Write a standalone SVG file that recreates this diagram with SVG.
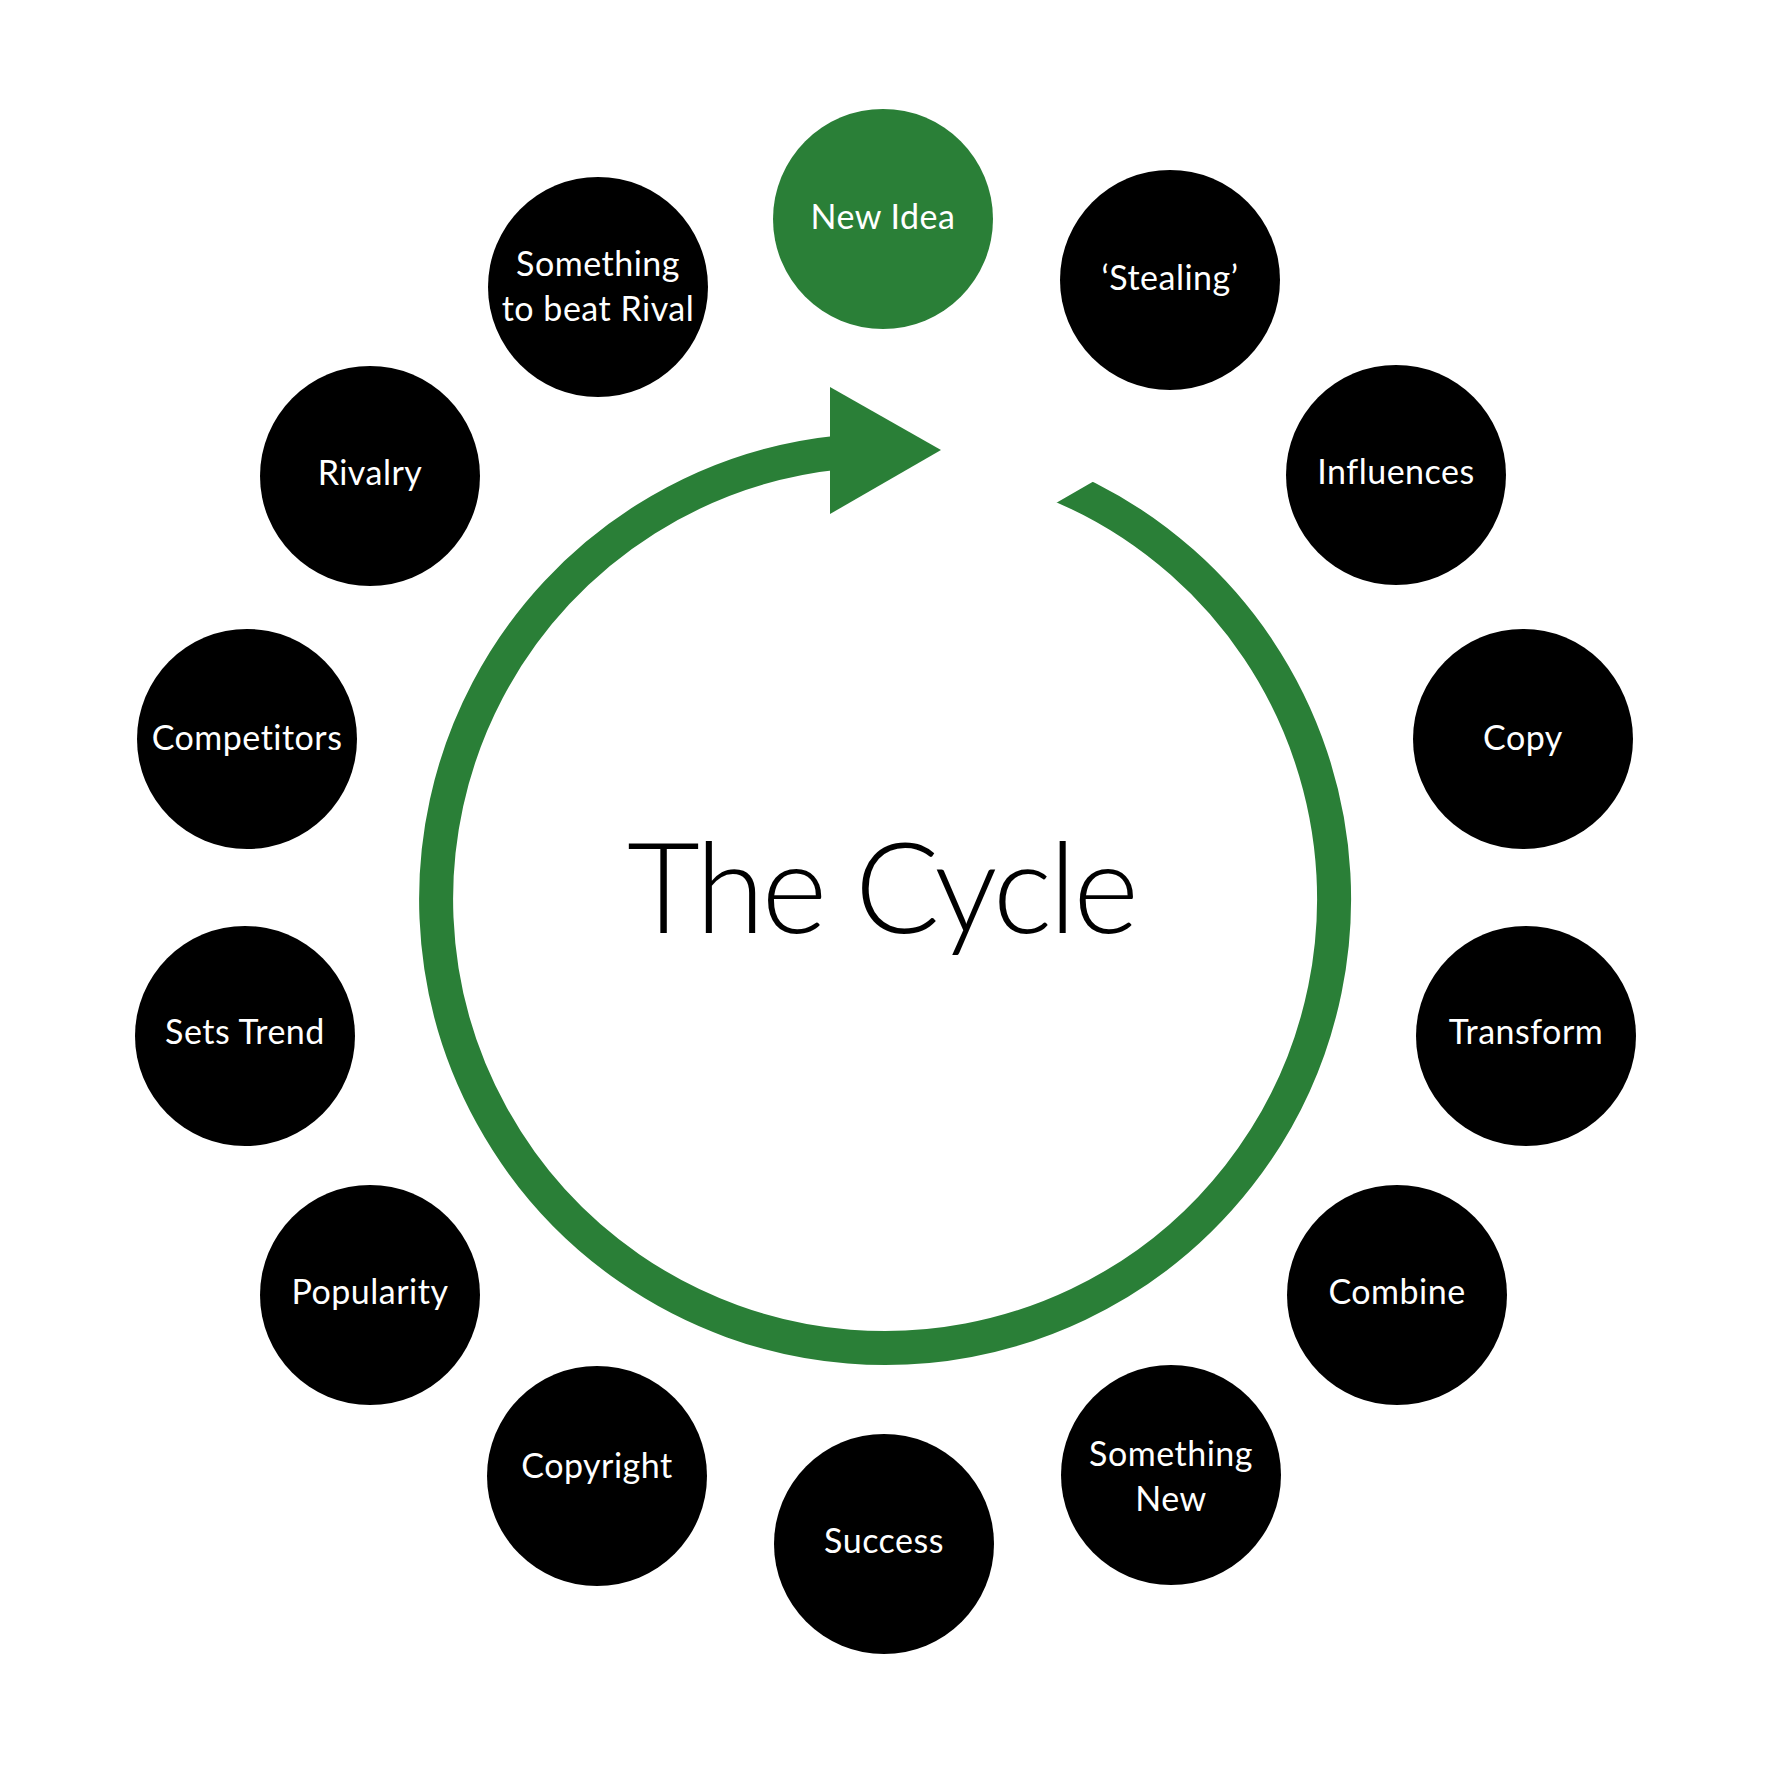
<svg xmlns="http://www.w3.org/2000/svg" width="1772" height="1772" viewBox="0 0 1772 1772">
  <style>
    .node { fill: #000000; }
    .start { fill: #2a7f37; }
    .label { font-family: Lato, "Open Sans", "Liberation Sans", sans-serif; font-size: 34px; fill: #ffffff; text-anchor: middle; letter-spacing: 0.5px; }
    .title { font-family: Lato, "Open Sans", "Liberation Sans", sans-serif; font-size: 126px; font-weight: 300; fill: #000000; text-anchor: middle; }
    .ring { fill: none; stroke: #2a7f37; stroke-width: 34; stroke-linecap: butt; }
    .head { fill: #2a7f37; }
  </style>
  <defs>
    <clipPath id="ringCut">
      <polygon points="0,0 900,0 900,593 1772,90 1772,1772 0,1772"/>
    </clipPath>
  </defs>
  <rect width="1772" height="1772" fill="#ffffff"/>

  <g id="connectors">
    <path class="ring" clip-path="url(#ringCut)" d="M 1001.2 465.3 A 449 449 0 1 1 840 452.3"/>
    <polygon class="head" points="830,387 941,450 830,514"/>
  </g>

  <text class="title" x="883" y="933" textLength="512" lengthAdjust="spacing">The Cycle</text>

  <g id="node-new-idea">
    <circle class="start" cx="883" cy="219" r="110"/>
    <text class="label" x="883" y="229">New Idea</text>
  </g>
  <g id="node-stealing">
    <circle class="node" cx="1170" cy="280" r="110"/>
    <text class="label" x="1170" y="290">‘Stealing’</text>
  </g>
  <g id="node-influences">
    <circle class="node" cx="1396" cy="475" r="110"/>
    <text class="label" x="1396" y="484">Influences</text>
  </g>
  <g id="node-copy">
    <circle class="node" cx="1523" cy="739" r="110"/>
    <text class="label" x="1523" y="750">Copy</text>
  </g>
  <g id="node-transform">
    <circle class="node" cx="1526" cy="1036" r="110"/>
    <text class="label" x="1526" y="1044">Transform</text>
  </g>
  <g id="node-combine">
    <circle class="node" cx="1397" cy="1295" r="110"/>
    <text class="label" x="1397" y="1304">Combine</text>
  </g>
  <g id="node-something-new">
    <circle class="node" cx="1171" cy="1475" r="110"/>
    <text class="label" x="1171" y="1466">Something</text>
    <text class="label" x="1171" y="1511">New</text>
  </g>
  <g id="node-success">
    <circle class="node" cx="884" cy="1544" r="110"/>
    <text class="label" x="884" y="1553">Success</text>
  </g>
  <g id="node-copyright">
    <circle class="node" cx="597" cy="1476" r="110"/>
    <text class="label" x="597" y="1478">Copyright</text>
  </g>
  <g id="node-popularity">
    <circle class="node" cx="370" cy="1295" r="110"/>
    <text class="label" x="370" y="1304">Popularity</text>
  </g>
  <g id="node-sets-trend">
    <circle class="node" cx="245" cy="1036" r="110"/>
    <text class="label" x="245" y="1044">Sets Trend</text>
  </g>
  <g id="node-competitors">
    <circle class="node" cx="247" cy="739" r="110"/>
    <text class="label" x="247" y="750">Competitors</text>
  </g>
  <g id="node-rivalry">
    <circle class="node" cx="370" cy="476" r="110"/>
    <text class="label" x="370" y="485">Rivalry</text>
  </g>
  <g id="node-something-to-beat-rival">
    <circle class="node" cx="598" cy="287" r="110"/>
    <text class="label" x="598" y="276">Something</text>
    <text class="label" x="598" y="321">to beat Rival</text>
  </g>
</svg>
